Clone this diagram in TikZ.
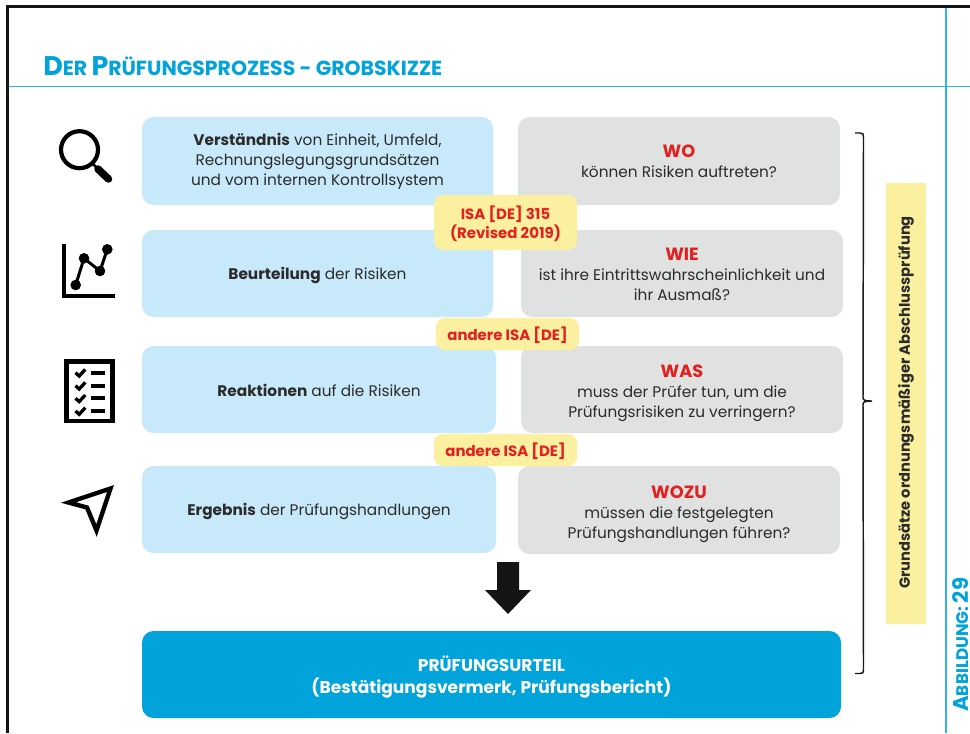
\documentclass[tikz,border=0pt]{standalone}
\usepackage{fontspec}
\setmainfont{Poppins}
\definecolor{cblue}{HTML}{C8E9F9}
\definecolor{cgrey}{HTML}{E0E1E1}
\definecolor{cyel}{HTML}{FAF09F}
\definecolor{cacc}{HTML}{00A3DA}
\definecolor{cline}{HTML}{2FB5E3}
\definecolor{cred}{HTML}{E3201F}
\definecolor{ctxt}{HTML}{2B2B2B}
% style, name, x1, x2, y1, y2, text, downward shift
\newcommand{\bx}[8]{\node[#1,minimum width=#4*0.75pt-#3*0.75pt,minimum height=#6*0.75pt-#5*0.75pt] (#2) at ({(#3+#4)/2},{(#5+#6)/2})
 {\raisebox{-#8pt}[\height][\depth]{\begin{tabular}{@{}c@{}}#7\end{tabular}}};}
\tikzset{
 x=0.75pt,y=-0.75pt,
 boxbase/.style={rounded corners=11.5pt*0.75,inner sep=0pt,font=\fontsize{11.5}{15}\selectfont,text=ctxt},
 bluebox/.style={boxbase,fill=cblue},
 greybox/.style={boxbase,fill=cgrey},
 yelbox/.style={rounded corners=9pt*0.75,inner sep=0pt,fill=cyel,text=cred,font=\fontsize{11.2}{14.5}\selectfont\bfseries},
 finalbox/.style={boxbase,fill=cacc,text=white,font=\fontsize{12.8}{16.3}\selectfont\bfseries},
}
\newcommand{\wh}[1]{{\fontsize{13.3}{15}\selectfont\bfseries\color{cred}#1}}
\begin{document}
\begin{tikzpicture}
\useasboundingbox (0,0) rectangle (970,733);
\fill[white] (0,0) rectangle (970,733);
% frame
\draw[line width=2.25pt,black!92] (7.5,733) -- (7.5,6.5) -- (970,6.5);
\draw[line width=0.9pt,cline] (946,8) -- (946,733);
\draw[line width=0.75pt,cline] (9,86.5) -- (970,86.5);
\node[anchor=base west,inner sep=0pt,text=cacc,font=\bfseries] (title) at (43,75.5)
 {\fontsize{20.2}{20}\selectfont D\fontsize{15.3}{20}\selectfont ER \fontsize{20.2}{20}\selectfont P\fontsize{15.3}{20}\selectfont RÜFUNGSPROZESS - GROBSKIZZE};
% blue boxes
\bx{bluebox}{b1}{142}{493}{117}{205}{\textbf{Verständnis} von Einheit, Umfeld,\\Rechnungslegungsgrundsätzen\\und vom internen Kontrollsystem}{0.5}
\bx{bluebox}{b2}{142}{493}{230}{317}{\textbf{Beurteilung} der Risiken}{1.5}
\bx{bluebox}{b3}{142}{496}{346}{433}{\textbf{Reaktionen} auf die Risiken}{2}
\bx{bluebox}{b4}{142}{496}{466}{553}{\textbf{Ergebnis} der Prüfungshandlungen}{1.5}
% grey boxes
\bx{greybox}{g1}{518}{840}{117}{205}{\wh{WO}\\können Risiken auftreten?}{1.8}
\bx{greybox}{g2}{521}{843}{230}{317}{\wh{WIE}\\ist ihre Eintrittswahrscheinlichkeit und\\ihr Ausmaß?}{2.6}
\bx{greybox}{g3}{521}{843}{346}{433}{\wh{WAS}\\muss der Prüfer tun, um die\\Prüfungsrisiken zu verringern?}{3.3}
\bx{greybox}{g4}{518}{840}{466}{554}{\wh{WOZU}\\müssen die festgelegten\\Prüfungshandlungen führen?}{3}
% yellow
\bx{yelbox}{y1}{434}{577}{195}{250}{ISA [DE] 315\\(Revised 2019)}{1.9}
\bx{yelbox}{y2}{436}{579}{318}{350}{andere ISA [DE]}{2}
\bx{yelbox}{y3}{434}{577}{434}{466}{andere ISA [DE]}{2.3}
% final
\bx{finalbox}{fin}{142}{841}{631}{718}{PRÜFUNGSURTEIL\\(Bestätigungsvermerk, Prüfungsbericht)}{2.4}
% arrow
\fill[black!92] (497,562) -- (519,562) -- (519,590) -- (531,590) -- (508,614) -- (485,590) -- (497,590) -- cycle;
% brace
\draw[line width=1.1pt,black!90] (855,133) -- (860,133) .. controls (863,133) and (863.5,134) .. (863.5,137) -- (863,397) .. controls (863,400) and (864,401) .. (872,401)
 (855,673.5) -- (860,673.5) .. controls (863,673.5) and (863.5,672.5) .. (863.5,670) -- (863,405) .. controls (863,402) and (864,401) .. (872,401);
% side
\node[fill=cyel,minimum width=30pt,minimum height=441*0.75pt,inner sep=0pt] (side) at (906,403.5) {};
\node[rotate=90,font=\fontsize{11}{13}\selectfont\bfseries,text=ctxt] (sidet) at (906,402.5) {Grundsätze ordnungsmäßiger Abschlussprüfung};
\node[rotate=90,anchor=base west,inner sep=0pt,text=cacc,font=\bfseries] (abb) at (968,712) {\fontsize{16}{16}\selectfont A\fontsize{12.6}{16}\selectfont BBILDUNG: \fontsize{16}{16}\selectfont 29};
% magnifier
\draw[line width=4.2pt*0.75,black] (79.5,149.7) circle (18.5);
\draw[line width=2.5pt*0.75,black] (92,163) -- (98,169);
\draw[line width=7.5pt*0.75,line cap=round,black] (98,169) -- (108.5,179);
% chart
\draw[line width=4.3pt*0.75,black] (64.2,244) -- (64.2,295.7) -- (115,295.7);
\draw[line width=3pt*0.75,black] (75.7,285) -- (84,258.3) -- (100,271) -- (107.3,249.3);
\foreach \px/\py in {75.7/285,84/258.3,100/271,107.3/249.3} \fill[black] (\px,\py) circle (5.3);
% checklist
\draw[line width=4.7pt*0.75,black] (66.6,361.4) rectangle (112.4,421);
\foreach \yy in {372.7,385.7,398.3,411}{
 \draw[line width=3.3pt*0.75,black] (75.5,\yy) -- (79.2,\yy+3.3) -- (85.3,\yy-3.3);
 \draw[line width=4pt*0.75,black] (91,\yy) -- (105,\yy);
}
% pointer
\draw[line width=4.4pt*0.75,black] (68.5,502.5) -- (110.5,488.5) -- (96.5,530.5) -- (87,507.5) -- cycle;
\end{tikzpicture}
\end{document}
